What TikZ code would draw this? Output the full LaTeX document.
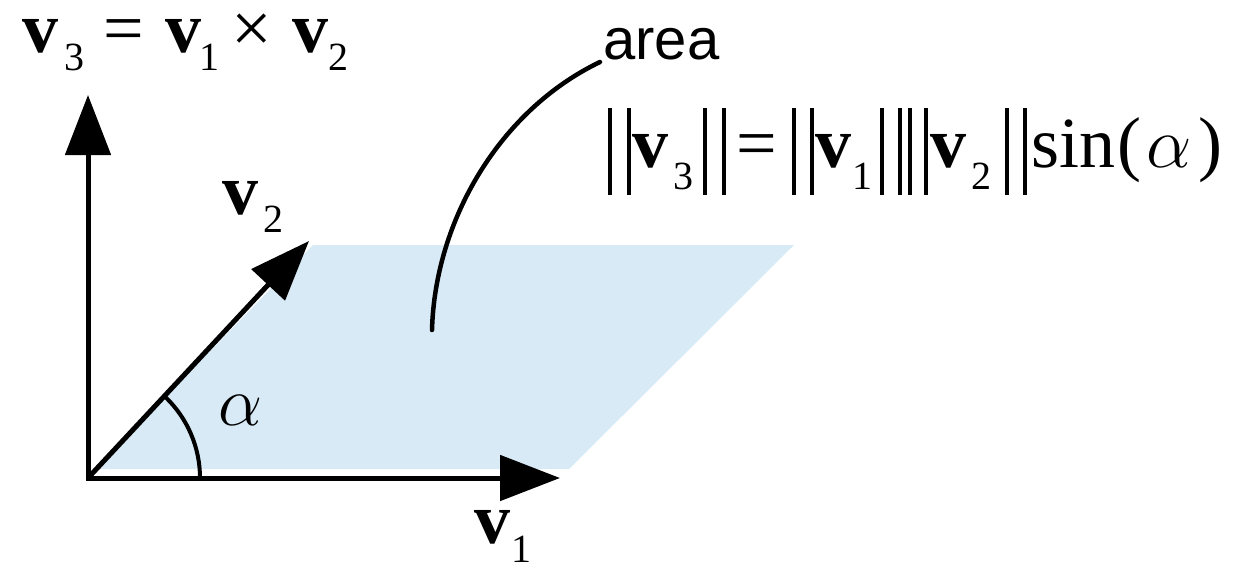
\RequirePackage{fix-cm}
\documentclass[tikz,border=0pt]{standalone}
\usepackage{fontspec}
\setmainfont{Liberation Serif}
\newfontfamily\areafont{Liberation Sans}
\usetikzlibrary{arrows.meta}
\definecolor{areablue}{RGB}{216,234,245}
\newcommand\bigsz{\fontsize{72}{80}\selectfont}
\newcommand\subsz{\fontsize{40}{44}\selectfont}
\newcommand\bv{{\bfseries v}}
\newcommand\lowsub[2][18pt]{\raisebox{-#1}{\subsz #2}}
\newcommand\nbar{\vrule width 4pt height 59pt depth 28pt}
\tikzset{
  vec/.style={line width=5pt, -{Triangle[length=60pt,width=45pt]}},
  lbl/.style={inner sep=0pt, anchor=base west, font=\bigsz},
  thinline/.style={line width=4.5pt, line cap=round},
}
\begin{document}
\begin{tikzpicture}[x=1pt,y=-1pt]
\useasboundingbox (0,0) rectangle (1248,563);
% area parallelogram
\coordinate (P1) at (96,469);
\coordinate (P2) at (569,469);
\coordinate (P3) at (794,245);
\coordinate (P4) at (313,245);
\fill[areablue] (P1) -- (P2) -- (P3) -- (P4) -- cycle;
% vectors
\coordinate (O) at (88,478);
\coordinate (T1) at (560,478);
\coordinate (T2) at (309,241);
\coordinate (T3) at (88,95);
\draw[vec] ([yshift=-2.5pt]O) -- (T3);
\draw[vec] ([xshift=-2.5pt]O) -- (T1);
\draw[vec] (O) -- (T2);
% angle arc
\coordinate (A0) at (200,478);
\draw[line width=4pt] (A0) arc[start angle=0, end angle=-46, radius=112];
% leader curve
\coordinate (cB) at (432,330);
\coordinate (cT) at (600,62);
\draw[thinline] (cB) .. controls (435,220) and (500,110) .. (cT);
% labels
\node[lbl] (eq1) at (22,52) {\bv\kern6pt\lowsub{3}\kern19pt=\kern22pt\bv\kern-2pt\lowsub{1}\kern12pt×\kern20pt\bv\lowsub{2}};
\node[lbl] (lv2) at (222,214) {\bv\kern5pt\lowsub[18pt]{2}};
\node[lbl] (lv1) at (474,543) {\bv\kern1pt\lowsub[19pt]{1}};
\node[inner sep=0pt, anchor=base west, font=\fontsize{70}{70}\selectfont] (al) at (218,425) {$\alpha$};
\node[inner sep=0pt, anchor=base west, font=\areafont\fontsize{58}{60}\selectfont] (area) at (603,59) {area};
\node[lbl] (eq2) at (608,167) {\nbar\kern15pt\nbar\kern1pt\bv\kern5pt\lowsub[22pt]{3}\kern10pt\nbar\kern15pt\nbar\kern10pt=\kern15pt\nbar\kern14pt\nbar\kern2pt\bv\kern1pt\lowsub[22pt]{1}\kern7pt\nbar\kern14pt\nbar\kern6pt\nbar\kern12pt\nbar\kern3pt\bv\kern5pt\lowsub[22pt]{2}\kern13pt\nbar\kern14pt\nbar\kern5pt sin\kern2pt(\kern5pt$\alpha$\kern6pt)};
\end{tikzpicture}
\end{document}
